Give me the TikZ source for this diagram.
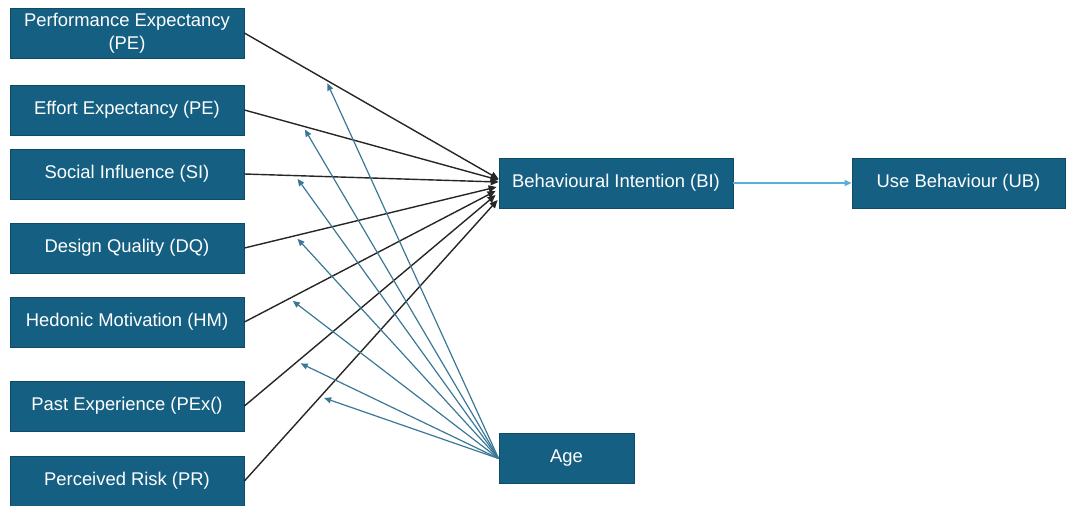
\documentclass[tikz,border=0pt]{standalone}
\usepackage{fontspec}
\setmainfont{Liberation Sans}
\usetikzlibrary{arrows.meta}

\definecolor{boxblue}{HTML}{156082}
\definecolor{boxedge}{HTML}{0F4A66}
\definecolor{modline}{HTML}{3A7896}
\definecolor{pathline}{HTML}{5AAEDB}

\tikzset{
    construct/.style={draw=boxedge, fill=boxblue, text=white, font=\fontsize{9.2}{11.5}\selectfont,
        minimum height=25pt, inner sep=2pt, align=center},
    effect/.style={draw=black!85, line width=0.7pt, -{Triangle[length=4pt,width=3.5pt]}},
    moderate/.style={draw=modline, line width=0.6pt, -{Triangle[length=3.5pt,width=3pt]}, shorten >=2pt},
}

\begin{document}
\begin{tikzpicture}[x=0.5pt, y=-0.5pt]
    \useasboundingbox (0,0) rectangle (1078,505);

    % Konstrukte links
    \node[construct, minimum width=117pt] (pe)  at (127,33)  {Performance Expectancy\\(PE)};
    \node[construct, minimum width=117pt] (ee)  at (127,110) {Effort Expectancy (PE)};
    \node[construct, minimum width=117pt] (si)  at (127,174) {Social Influence (SI)};
    \node[construct, minimum width=117pt] (dq)  at (127,248) {Design Quality (DQ)};
    \node[construct, minimum width=117pt] (hm)  at (127,322) {Hedonic Motivation (HM)};
    \node[construct, minimum width=117pt] (pex) at (127,406) {Past Experience (PEx()};
    \node[construct, minimum width=117pt] (pr)  at (127,481) {Perceived Risk (PR)};

    % Intention, Verhalten, Moderator
    \node[construct, minimum width=117pt]   (bi)  at (616,183)   {Behavioural Intention (BI)};
    \node[construct, minimum width=106.5pt] (ub)  at (958.5,183) {Use Behaviour (UB)};
    \node[construct, minimum width=67.5pt]  (age) at (566.5,458.5) {Age};

    % direkte Effekte auf BI
    \draw[effect] (pe.east)  -- coordinate[pos=0.32] (mpe)  ([yshift=2pt]bi.west);
    \draw[effect] (ee.east)  -- coordinate[pos=0.23] (mee)  ([yshift=1.5pt]bi.west);
    \draw[effect] (si.east)  -- coordinate[pos=0.20] (msi)  ([yshift=0.5pt]bi.west);
    \draw[effect] (dq.east)  -- coordinate[pos=0.20] (mdq)  ([xshift=-1pt,yshift=-2pt]bi.west);
    \draw[effect] (hm.east)  -- coordinate[pos=0.18] (mhm)  ([xshift=-1.5pt,yshift=-4pt]bi.west);
    \draw[effect] (pex.east) -- coordinate[pos=0.21] (mpex) ([xshift=-1.5pt,yshift=-6pt]bi.west);
    \draw[effect] (pr.east)  -- coordinate[pos=0.30] (mpr)  ([xshift=-0.5pt,yshift=-8.5pt]bi.west);

    % Moderation durch Alter
    \draw[moderate] (age.west) -- (mpe);
    \draw[moderate] (age.west) -- (mee);
    \draw[moderate] (age.west) -- (msi);
    \draw[moderate] (age.west) -- (mdq);
    \draw[moderate] (age.west) -- (mhm);
    \draw[moderate] (age.west) -- (mpex);
    \draw[moderate] (age.west) -- (mpr);

    % BI -> UB
    \draw[pathline, line width=0.6pt, -{Triangle[length=3.5pt,width=3pt]}] (bi) -- (ub);
\end{tikzpicture}
\end{document}
